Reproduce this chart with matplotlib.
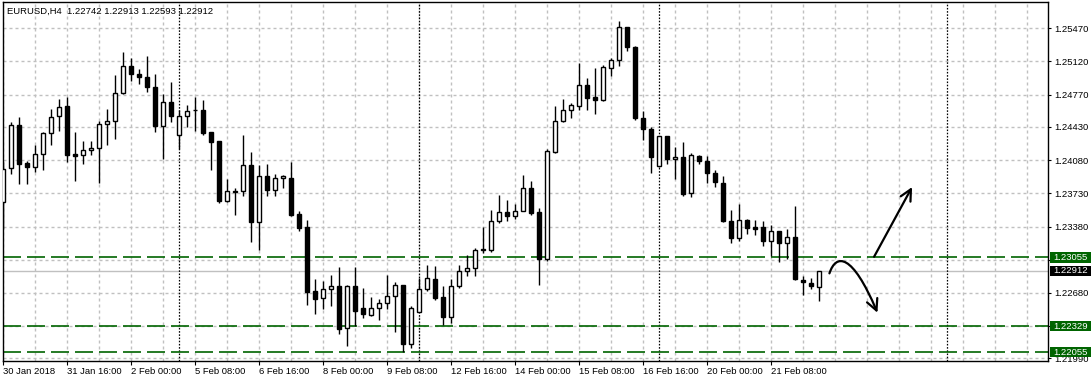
import numpy as np
import matplotlib
matplotlib.use("Agg")
import matplotlib.pyplot as plt
from matplotlib.patches import Rectangle, FancyArrowPatch
from matplotlib.path import Path
from matplotlib.transforms import blended_transform_factory

plt.rcParams['font.family'] = ['Liberation Sans', 'DejaVu Sans']
plt.rcParams['lines.scale_dashes'] = False

# EURUSD H4 candles, 30 Jan 2018 08:00 .. 22 Feb 2018 08:00
opens = [1.23635, 1.23994, 1.24447, 1.24046, 1.24004, 1.24141, 1.24363, 1.24542, 1.24647, 1.24141,
         1.24131, 1.24183, 1.24204, 1.24458, 1.24489, 1.24784, 1.25069, 1.24985, 1.24953, 1.24848,
         1.24443, 1.24690, 1.24342, 1.24542, 1.24606, 1.24605, 1.24373, 1.24278, 1.23652, 1.23749,
         1.23757, 1.24025, 1.23430, 1.23909, 1.23762, 1.23888, 1.23888, 1.23512, 1.23375, 1.22697,
         1.22623, 1.22718, 1.22749, 1.22306, 1.22749, 1.22517, 1.22450, 1.22517, 1.22570, 1.22644,
         1.22760, 1.22138, 1.22475, 1.22718, 1.22823, 1.22633, 1.22429, 1.22749, 1.22907, 1.22939,
         1.23137, 1.23132, 1.23433, 1.23530, 1.23487, 1.23540, 1.23783, 1.23530, 1.23040, 1.24165,
         1.24489, 1.24605, 1.24647, 1.24869, 1.24742, 1.24711, 1.25048, 1.25132, 1.25480, 1.25269,
         1.24521, 1.24405, 1.24015, 1.24331, 1.24088, 1.24110, 1.23730, 1.24120, 1.24067, 1.23941,
         1.23835, 1.23435, 1.23255, 1.23445, 1.23371, 1.23371, 1.23224, 1.23329, 1.23203, 1.23266,
         1.22813, 1.22781, 1.22742]
highs = [1.24063, 1.24479, 1.24531, 1.24071, 1.24236, 1.24376, 1.24619, 1.24724, 1.24745, 1.24376,
         1.24281, 1.24281, 1.24492, 1.24619, 1.24981, 1.25220, 1.25157, 1.25041, 1.25178, 1.24985,
         1.24777, 1.24900, 1.24605, 1.24661, 1.24742, 1.24711, 1.24373, 1.24278, 1.23878, 1.23783,
         1.24342, 1.24162, 1.24028, 1.24036, 1.23930, 1.23920, 1.24060, 1.23543, 1.23445, 1.22826,
         1.22808, 1.22865, 1.22950, 1.22760, 1.22950, 1.22728, 1.22633, 1.22612, 1.22865, 1.22791,
         1.22760, 1.22538, 1.22834, 1.22971, 1.22960, 1.22749, 1.22823, 1.22971, 1.23076, 1.23150,
         1.23371, 1.23551, 1.23709, 1.23656, 1.23614, 1.23920, 1.23856, 1.23572, 1.24200, 1.24647,
         1.24721, 1.24679, 1.25107, 1.24943, 1.25048, 1.25080, 1.25154, 1.25544, 1.25480, 1.25280,
         1.24598, 1.24426, 1.24334, 1.24331, 1.24215, 1.24268, 1.24152, 1.24131, 1.24120, 1.23976,
         1.23909, 1.23551, 1.23614, 1.23456, 1.23445, 1.23435, 1.23392, 1.23329, 1.23350, 1.23593,
         1.22855, 1.22834, 1.22913]
lows = [1.23350, 1.23933, 1.23831, 1.23831, 1.23955, 1.23979, 1.24239, 1.24390, 1.24057, 1.23863,
        1.24042, 1.24131, 1.23842, 1.24239, 1.24306, 1.24774, 1.24917, 1.24879, 1.24795, 1.24379,
        1.24092, 1.24485, 1.24197, 1.24432, 1.24390, 1.24348, 1.23979, 1.23631, 1.23641, 1.23504,
        1.23705, 1.23220, 1.23132, 1.23698, 1.23698, 1.23789, 1.23491, 1.23336, 1.22555, 1.22460,
        1.22513, 1.22545, 1.22249, 1.22123, 1.22334, 1.22418, 1.22439, 1.22397, 1.22513, 1.22270,
        1.22055, 1.22095, 1.22475, 1.22697, 1.22605, 1.22344, 1.22362, 1.22728, 1.22855, 1.22855,
        1.23097, 1.23111, 1.23420, 1.23441, 1.23462, 1.23540, 1.23504, 1.22760, 1.23013, 1.24158,
        1.24479, 1.24521, 1.24605, 1.24605, 1.24563, 1.24700, 1.24964, 1.25069, 1.25227, 1.24500,
        1.24289, 1.23941, 1.24012, 1.24036, 1.23878, 1.23705, 1.23688, 1.24036, 1.23835, 1.23793,
        1.23424, 1.23203, 1.23224, 1.23298, 1.23287, 1.23171, 1.23066, 1.23002, 1.23034, 1.22813,
        1.22654, 1.22718, 1.22593]
closes = [1.23983, 1.24447, 1.24042, 1.24010, 1.24141, 1.24363, 1.24531, 1.24637, 1.24137, 1.24126,
          1.24183, 1.24208, 1.24458, 1.24489, 1.24784, 1.25069, 1.24985, 1.24953, 1.24854, 1.24443,
          1.24690, 1.24548, 1.24542, 1.24595, 1.24604, 1.24369, 1.24274, 1.23649, 1.23751, 1.23751,
          1.24025, 1.23430, 1.23909, 1.23762, 1.23888, 1.23909, 1.23501, 1.23367, 1.22692, 1.22618,
          1.22718, 1.22749, 1.22302, 1.22749, 1.22492, 1.22460, 1.22517, 1.22570, 1.22644, 1.22760,
          1.22144, 1.22517, 1.22718, 1.22834, 1.22626, 1.22429, 1.22749, 1.22907, 1.22939, 1.23129,
          1.23143, 1.23435, 1.23530, 1.23494, 1.23540, 1.23783, 1.23525, 1.23040, 1.24173, 1.24489,
          1.24605, 1.24658, 1.24869, 1.24732, 1.24711, 1.25059, 1.25132, 1.25480, 1.25269, 1.24521,
          1.24405, 1.24110, 1.24331, 1.24088, 1.24110, 1.23719, 1.24131, 1.24067, 1.23941, 1.23846,
          1.23435, 1.23255, 1.23445, 1.23361, 1.23357, 1.23224, 1.23329, 1.23203, 1.23266, 1.22823,
          1.22791, 1.22749, 1.22912]

header = "EURUSD,H4  1.22742 1.22913 1.22593 1.22912"
time_ticks = [0, 8, 16, 24, 32, 40, 48, 56, 64, 72, 80, 88, 96]
time_labels = ["30 Jan 2018", "31 Jan 16:00", "2 Feb 00:00", "5 Feb 08:00", "6 Feb 16:00",
               "8 Feb 00:00", "9 Feb 08:00", "12 Feb 16:00", "14 Feb 00:00", "15 Feb 08:00",
               "16 Feb 16:00", "20 Feb 00:00", "21 Feb 08:00"]
price_ticks = [1.25470, 1.25120, 1.24770, 1.24430, 1.24080, 1.23730, 1.23380,
               1.23030, 1.22680, 1.22330, 1.21990]
# 1.23030 and 1.22330 sit under the level boxes, so they are left blank
price_labels = ["1.25470", "1.25120", "1.24770", "1.24430", "1.24080", "1.23730", "1.23380",
                "", "1.22680", "", "1.21990"]
levels = [1.23055, 1.22329, 1.22055]
level_labels = ["1.23055", "1.22329", "1.22055"]
last_price = 1.22912
separators = [22, 52, 82, 118]   # week starts (bar index)

# hand-drawn arrows (bar index, price)
arrow_up = [(108.83, 1.23061), (113.58, 1.23796)]
arrow_down = [(103.25, 1.22886), (104.08, 1.23099), (106.1, 1.23100), (109.25, 1.22471)]

GREEN = '#006400'
GRID = '#c0c0c0'
px = 0.72  # one pixel in points at dpi 100

fig = plt.figure(figsize=(10.91, 3.82), dpi=100)
ax = fig.add_axes([2.67 / 1091, 21 / 382, 1045.6 / 1091, 359 / 382])
ax.set_axisbelow(True)

o = np.array(opens); h = np.array(highs); l = np.array(lows); c = np.array(closes)
x = np.arange(len(o))
up = c >= o
lo = np.minimum(o, c)
ht = np.maximum(np.abs(c - o), 0.00002)

ax.vlines(x, l, h, color='black', lw=1.0, zorder=3)
ax.bar(x[up], ht[up], bottom=lo[up], width=0.5, color='white', edgecolor='black', lw=1.0, zorder=4)
ax.bar(x[~up], ht[~up], bottom=lo[~up], width=0.5, color='black', edgecolor='black', lw=1.0, zorder=4)

# levels and current price
for lv in levels:
    ax.axhline(lv, color=GREEN, lw=1.2, linestyle=(0, (18 * px, 6 * px)), zorder=2)
ax.axhline(last_price, color=GRID, lw=1.0, zorder=1.8)
for s in separators:
    ax.axvline(s, color='black', lw=0.9, linestyle=(0, (1.6 * px, 1.6 * px)), zorder=1.9)

# arrows
ax.annotate("", xy=arrow_up[1], xytext=arrow_up[0],
            arrowprops=dict(arrowstyle='->,head_length=0.8,head_width=0.4', lw=1.6,
                            color='black', shrinkA=0, shrinkB=0, mutation_scale=10), zorder=6)
curve = Path(arrow_down, [Path.MOVETO, Path.CURVE4, Path.CURVE4, Path.CURVE4])
ax.add_patch(FancyArrowPatch(path=curve, arrowstyle='->,head_length=0.8,head_width=0.4',
                             lw=1.6, color='black', mutation_scale=10,
                             transform=ax.transData, zorder=6))

ax.set_xlim(-0.08, 130.6)
ax.set_ylim(1.21962, 1.25747)

# grid
ax.set_xticks(time_ticks)
ax.set_xticklabels(time_labels, ha='left')
ax.set_xticks(np.arange(0, 131, 4), minor=True)
ax.set_yticks(price_ticks)
ax.set_yticklabels(price_labels)
ax.yaxis.tick_right()
ax.grid(True, which='both', color=GRID, lw=1.0, linestyle=(0, (3 * px, 3 * px)))
ax.tick_params(axis='x', which='major', direction='out', length=3, width=0.8, pad=1.5,
               labelsize=6.8, colors='black')
ax.tick_params(axis='x', which='minor', length=0)
ax.tick_params(axis='y', direction='out', length=2.5, width=0.8, pad=1.8, labelsize=6.8,
               colors='black')
for sp in ax.spines.values():
    sp.set_color('black')
    sp.set_linewidth(1.0)

# price boxes on the right scale
trans = blended_transform_factory(ax.transAxes, ax.transData)
bx = (1050 - 2.67) / 1045.6
bw = 42 / 1045.6
bh = 5.2 * 0.00010545
for lv, lab in zip(levels, level_labels):
    ax.add_patch(Rectangle((bx, lv - bh), bw, 2 * bh, transform=trans, clip_on=False,
                           fc=GREEN, ec='none', zorder=7))
    ax.text(bx + 3.5 / 1045.6, lv, lab, transform=trans, color='white', fontsize=6.8,
            va='center', ha='left', clip_on=False, zorder=8)
ax.add_patch(Rectangle((bx, last_price - bh), bw, 2 * bh, transform=trans, clip_on=False,
                       fc='black', ec='none', zorder=7))
ax.text(bx + 3.5 / 1045.6, last_price, "1.22912", transform=trans, color='white',
        fontsize=6.8, va='center', ha='left', clip_on=False, zorder=8)

fig.text(7 / 1091, 1 - 11 / 382, header, fontsize=6.8, color='black', va='center', ha='left')

fig.savefig("out.png", dpi=100)
